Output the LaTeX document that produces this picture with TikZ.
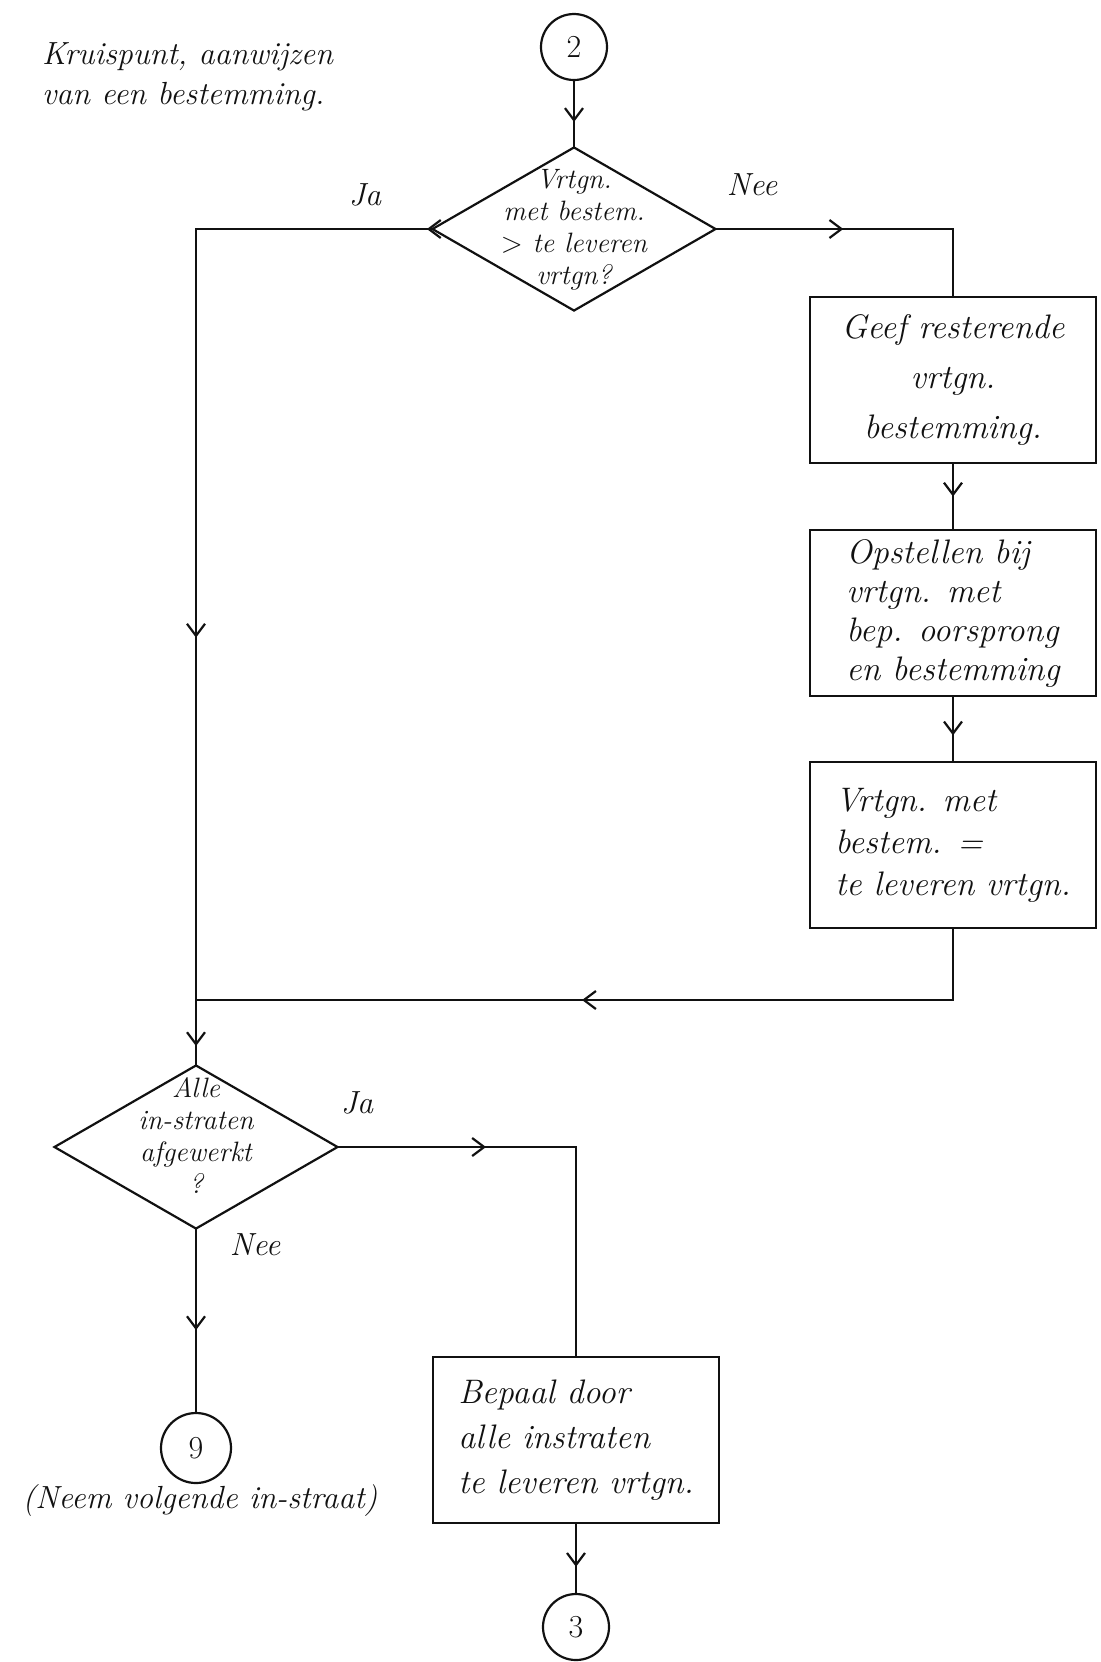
\documentclass[tikz,border=0pt]{standalone}
\usepackage{xcolor}
\usepackage{tikz}
\usetikzlibrary{arrows.meta,shapes.geometric,decorations.markings}
\definecolor{Ink}{HTML}{111111}
\definecolor{Paper}{HTML}{FFFFFF}

\tikzset{
  hand/.style={font=\itshape\fontsize{17}{#1}\selectfont,text=Ink},
  hand/.default=21pt,
  proc/.style={draw=Ink,line width=1.1pt,minimum width=143pt,minimum height=83pt,inner sep=2pt},
  decide/.style={diamond,draw=Ink,line width=1.1pt,minimum width=142pt,minimum height=82pt,inner sep=0pt},
  qtext/.style={font=\itshape\fontsize{14}{16}\selectfont,align=center,text=Ink},
  conn/.style={circle,draw=Ink,line width=1.1pt,minimum size=33pt,inner sep=0pt,font=\fontsize{16}{18}\selectfont,text=Ink},
  flow/.style={draw=Ink,line width=1.1pt,line cap=rect},
  midarrow/.style={postaction={decorate},decoration={markings,mark=at position #1 with {\arrow{Straight Barb[length=6pt,width=9pt]}}}},
  lbl/.style={font=\itshape\fontsize{16}{18}\selectfont,text=Ink}
}

\begin{document}
\begin{tikzpicture}[x=0.5pt,y=-0.5pt]
\fill[Paper] (0,0) rectangle (1100,1662);
\useasboundingbox (0,0) rectangle (1100,1662);
\node[lbl,align=left,anchor=west,font=\itshape\fontsize{16}{20}\selectfont] (title) at (35,77) {Kruispunt, aanwijzen\\van een bestemming.};
\node[conn] (c2) at (574,47) {2};
\node[decide] (q1) at (574,229) {};
\node[qtext] (q1t) at (574,230) {Vrtgn.\\met bestem.\\$>$ te leveren\\vrtgn?};
\node[lbl] (ja1) at (365,195) {Ja};
\node[lbl] (nee1) at (752,185) {Nee};
\node[proc,hand=25pt,align=center] (b1) at (953,380) {Geef resterende\\vrtgn.\\bestemming.};
\node[proc,hand=19.5pt,align=left] (b2) at (953,613) {Opstellen bij\\vrtgn. met\\bep. oorsprong\\en bestemming};
\node[proc,hand=21pt,align=left] (b3) at (953,845) {Vrtgn. met\\bestem. =\\te leveren vrtgn.};
\node[decide] (q2) at (196,1147) {};
\node[qtext] (q2t) at (196,1135) {Alle\\in-straten\\afgewerkt\\?};
\node[lbl] (ja2) at (357,1103) {Ja};
\node[lbl] (nee2) at (255,1245) {Nee};
\node[conn,minimum size=35pt] (c9) at (196,1448) {9};
\node[lbl] (c9l) at (200,1500) {(Neem volgende in-straat)};
\node[proc,hand=22.5pt,align=left] (b4) at (576,1440) {Bepaal door\\alle instraten\\te leveren vrtgn.};
\node[conn] (c3) at (576,1627) {3};
\coordinate (k1) at (196,229);
\coordinate (k2) at (953,229);
\coordinate (k3) at (953,1000);
\coordinate (k4) at (196,1000);
\coordinate (k5) at (576,1147);
\draw[flow,midarrow=0.63] (c2) -- (q1);
\draw[flow,midarrow=2pt] (q1.west) -- (k1);
\draw[flow,midarrow=0.53] (k1) -- (k4);
\draw[flow,midarrow=0.72] (k4) -- (q2);
\draw[flow,midarrow=0.535] (q1.east) -- (k2);
\draw[flow] (k2) -- (b1);
\draw[flow,midarrow=0.5] (b1) -- (b2);
\draw[flow,midarrow=0.6] (b2) -- (b3);
\draw[flow] (b3) -- (k3);
\draw[flow,midarrow=0.49] (k3) -- (k4);
\draw[flow,midarrow=0.62] (q2.east) -- (k5);
\draw[flow] (k5) -- (b4);
\draw[flow,midarrow=0.55] (q2) -- (c9);
\draw[flow,midarrow=0.62] (b4) -- (c3);
\end{tikzpicture}
\end{document}
